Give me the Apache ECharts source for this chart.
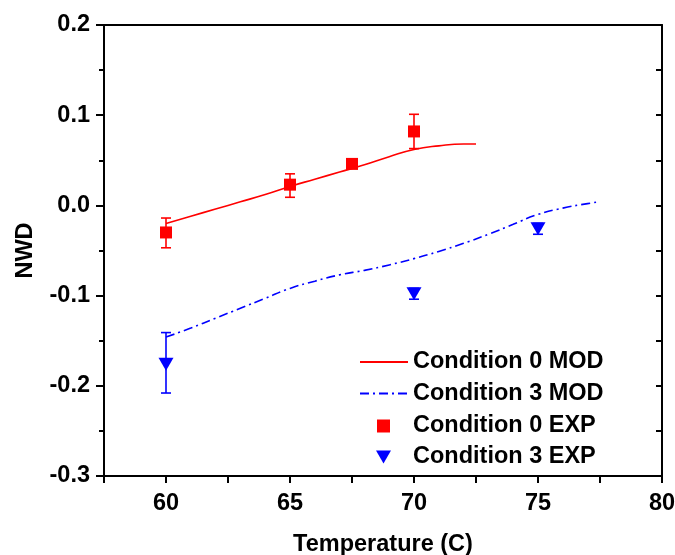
<!DOCTYPE html>
<html>
<head>
<meta charset="utf-8">
<script src="https://cdn.jsdelivr.net/npm/echarts@6/dist/echarts.min.js"></script>
<style>html,body{margin:0;padding:0;background:#fff}#c{width:675px;height:555px}</style>
</head>
<body>
<div id="c"></div>
<script>
// Model curves
var mod0X = [60, 61, 62, 63, 64, 65, 66, 67, 68, 69, 70, 71, 72, 72.5];
var mod0Y = [-0.020, -0.012, -0.004, 0.004, 0.012, 0.021, 0.029, 0.037, 0.045, 0.054, 0.062, 0.066, 0.068, 0.068];
var mod3X = [60, 61, 62, 63, 64, 65, 66, 67, 68, 69, 70, 71, 72, 73, 74, 75, 76, 77, 77.5];
var mod3Y = [-0.146, -0.136, -0.125, -0.114, -0.103, -0.092, -0.084, -0.077, -0.072, -0.066, -0.059, -0.051, -0.042, -0.032, -0.021, -0.010, -0.003, 0.002, 0.004];
// Experimental points with error bars
var exp0X = [60, 65, 67.5, 70];
var exp0Y = [-0.030, 0.023, 0.046, 0.082];
var exp0Lo = [-0.047, 0.009, 0.042, 0.063];
var exp0Hi = [-0.014, 0.035, 0.050, 0.101];
var exp3X = [60, 70, 75];
var exp3Y = [-0.176, -0.098, -0.026];
var exp3Lo = [-0.208, -0.104, -0.032];
var exp3Hi = [-0.141, -0.092, -0.020];
var names = ['Condition 0 MOD', 'Condition 3 MOD', 'Condition 0 EXP', 'Condition 3 EXP'];

function zip(a, b) { return a.map(function (v, i) { return [v, b[i]]; }); }
function zip3(a, b, c) { return a.map(function (v, i) { return [v, b[i], c[i]]; }); }

function errRender(color) {
  return function (params, api) {
    var x = api.value(0);
    var lo = api.coord([x, api.value(1)]);
    var hi = api.coord([x, api.value(2)]);
    var w = 5;
    var st = { stroke: color, lineWidth: 1.6 };
    return {
      type: 'group',
      children: [
        { type: 'line', shape: { x1: lo[0], y1: lo[1], x2: hi[0], y2: hi[1] }, style: st },
        { type: 'line', shape: { x1: lo[0] - w, y1: lo[1], x2: lo[0] + w, y2: lo[1] }, style: st },
        { type: 'line', shape: { x1: hi[0] - w, y1: hi[1], x2: hi[0] + w, y2: hi[1] }, style: st }
      ]
    };
  };
}

var font = 'Liberation Sans, Arial, sans-serif';
var fs = 23.5;
var chart = echarts.init(document.getElementById('c'), null, { renderer: 'canvas' });
var option = {
  animation: false,
  textStyle: { fontFamily: font },
  grid: { left: 104, right: 13, top: 25, bottom: 79, containLabel: false, outerBoundsMode: 'none' },
  legend: [{
    orient: 'vertical', left: 354, top: 345,
    itemWidth: 48, itemHeight: 14, itemGap: 7.5,
    textStyle: { fontSize: fs, lineHeight: 22, fontWeight: 'bold', color: '#000', fontFamily: font },
    data: [
      { name: names[0], itemStyle: { opacity: 0 } },
      { name: names[1], itemStyle: { opacity: 0 } }
    ]
  }, {
    orient: 'vertical', left: 371, top: 409,
    itemWidth: 15, itemHeight: 13, itemGap: 7,
    textStyle: { fontSize: fs, lineHeight: 22, fontWeight: 'bold', color: '#000', fontFamily: font, padding: [0, 0, 0, 17] },
    data: [
      { name: names[2], icon: 'path://M0,0L13,0L13,13L0,13Z', itemStyle: { color: '#ff0000', opacity: 1 } },
      { name: names[3], icon: 'path://M0,0L15,0L7.5,13Z', itemStyle: { color: '#0000ff', opacity: 1 } }
    ]
  }],
  xAxis: [{
    type: 'value', min: 57.5, max: 80, interval: 2.5,
    name: 'Temperature (C)', nameLocation: 'middle', nameGap: 57,
    nameTextStyle: { fontSize: fs, fontWeight: 'bold', color: '#000', fontFamily: font },
    axisLine: { show: true, onZero: false, lineStyle: { color: '#000', width: 2 } },
    axisTick: { show: true, length: 7, lineStyle: { color: '#000', width: 2 } },
    axisLabel: {
      margin: 16, fontSize: fs, fontWeight: 'bold', color: '#000', fontFamily: font,
      formatter: function (v) { return Math.abs(v % 5) < 1e-6 ? String(v) : ''; }
    },
    splitLine: { show: false }
  }, {
    type: 'value', min: 57.5, max: 80, interval: 2.5, position: 'top',
    axisLine: { show: true, onZero: false, lineStyle: { color: '#000', width: 2 } },
    axisTick: { show: false }, axisLabel: { show: false }, splitLine: { show: false }
  }],
  yAxis: [{
    type: 'value', min: -0.3, max: 0.2, interval: 0.1,
    name: 'NWD', nameLocation: 'middle', nameGap: 66,
    nameTextStyle: { fontSize: fs, fontWeight: 'bold', color: '#000', fontFamily: font },
    axisLine: { show: true, onZero: false, lineStyle: { color: '#000', width: 2 } },
    axisTick: { show: true, length: 8, lineStyle: { color: '#000', width: 2 } },
    minorTick: { show: true, splitNumber: 2, length: 5, lineStyle: { color: '#000', width: 2 } },
    axisLabel: {
      margin: 14, fontSize: fs, fontWeight: 'bold', color: '#000', fontFamily: font,
      formatter: function (v) { return v.toFixed(1); }
    },
    splitLine: { show: false }
  }, {
    type: 'value', min: -0.3, max: 0.2, interval: 0.05, position: 'right',
    axisLine: { show: true, onZero: false, lineStyle: { color: '#000', width: 2 } },
    axisTick: { show: true, inside: true, length: 6, lineStyle: { color: '#000', width: 2 } },
    axisLabel: { show: false }, splitLine: { show: false }
  }],
  series: [{
    name: names[0], type: 'line', data: zip(mod0X, mod0Y), smooth: true,
    symbol: 'none', color: '#ff0000', lineStyle: { color: '#ff0000', width: 1.6 }, z: 3
  }, {
    name: names[1], type: 'line', data: zip(mod3X, mod3Y), smooth: true,
    symbol: 'none', color: '#0000ff', lineStyle: { color: '#0000ff', width: 1.6, type: [9, 4, 2, 4] }, z: 3
  }, {
    name: names[2], type: 'scatter', data: zip(exp0X, exp0Y),
    symbol: 'rect', symbolSize: 12, itemStyle: { color: '#ff0000', opacity: 1 }, z: 5
  }, {
    name: names[3], type: 'scatter', data: zip(exp3X, exp3Y),
    symbol: 'triangle', symbolRotate: 180, symbolSize: [15, 13], itemStyle: { color: '#0000ff', opacity: 1 }, z: 5
  }, {
    name: names[2] + ' err', type: 'custom', data: zip3(exp0X, exp0Lo, exp0Hi),
    renderItem: errRender('#ff0000'), encode: { x: 0, y: [1, 2] }, z: 4, silent: true
  }, {
    name: names[3] + ' err', type: 'custom', data: zip3(exp3X, exp3Lo, exp3Hi),
    renderItem: errRender('#0000ff'), encode: { x: 0, y: [1, 2] }, z: 4, silent: true
  }]
};
chart.setOption(option);
</script>
</body>
</html>
